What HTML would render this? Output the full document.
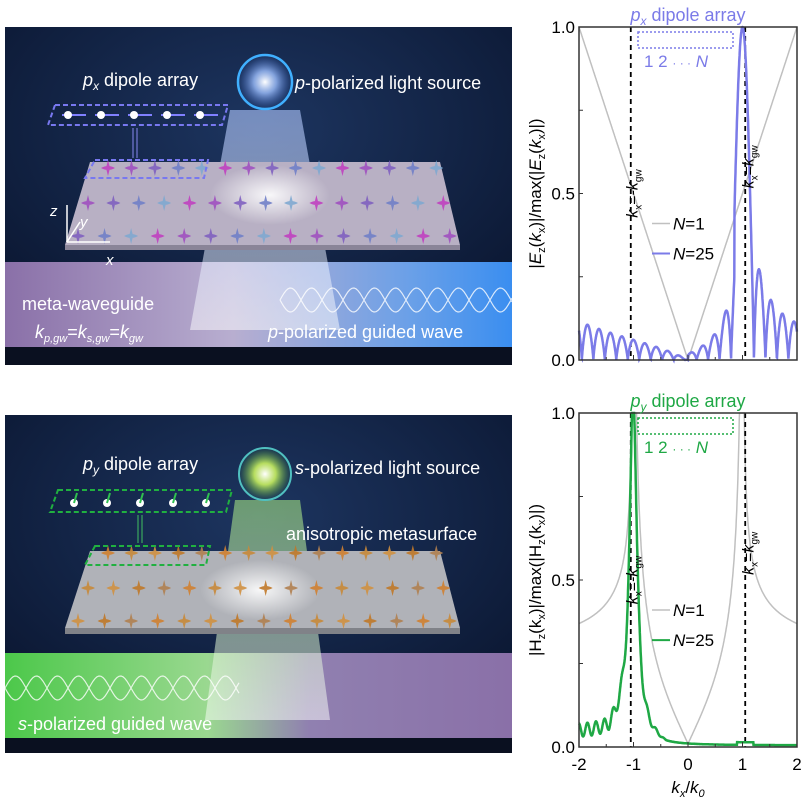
<!DOCTYPE html>
<html><head><meta charset="utf-8"><style>
html,body{margin:0;padding:0;background:#fff;}
svg{display:block;font-family:"Liberation Sans",sans-serif;}
</style></head><body>
<svg id="s" width="807" height="799" viewBox="0 0 807 799" xmlns="http://www.w3.org/2000/svg">
<defs>
<radialGradient id="bg" cx="0.5" cy="0.3" r="0.8"><stop offset="0" stop-color="#1d3560"/><stop offset="1" stop-color="#08122a"/></radialGradient>
<linearGradient id="wgp" x1="0" x2="1"><stop offset="0" stop-color="#8a70a8"/><stop offset="0.45" stop-color="#b8aed0"/><stop offset="0.8" stop-color="#6aa0e8"/><stop offset="1" stop-color="#3a8ef0"/></linearGradient>
<linearGradient id="wgs" x1="0" x2="1"><stop offset="0" stop-color="#4cc84a"/><stop offset="0.4" stop-color="#9ad890"/><stop offset="0.6" stop-color="#9080b0"/><stop offset="1" stop-color="#8a70a8"/></linearGradient>
<radialGradient id="glowB"><stop offset="0" stop-color="#fff"/><stop offset="0.4" stop-color="#9ec0ff" stop-opacity="0.8"/><stop offset="1" stop-color="#3a6ad0" stop-opacity="0"/></radialGradient>
<radialGradient id="glowG"><stop offset="0" stop-color="#fff"/><stop offset="0.4" stop-color="#c8f060" stop-opacity="0.9"/><stop offset="1" stop-color="#40a040" stop-opacity="0"/></radialGradient>
<linearGradient id="beamB" x1="0" y1="0" x2="0" y2="1"><stop offset="0" stop-color="#b0c8ff" stop-opacity="0.6"/><stop offset="1" stop-color="#fff" stop-opacity="0.5"/></linearGradient>
<linearGradient id="beamG" x1="0" y1="0" x2="0" y2="1"><stop offset="0" stop-color="#a0e080" stop-opacity="0.6"/><stop offset="1" stop-color="#fff" stop-opacity="0.5"/></linearGradient>
<radialGradient id="spot"><stop offset="0" stop-color="#fff" stop-opacity="0.9"/><stop offset="1" stop-color="#fff" stop-opacity="0"/></radialGradient>
</defs>

<rect x="5" y="27" width="507" height="338" fill="url(#bg)"/>
<rect x="5" y="262" width="507" height="85" fill="url(#wgp)"/>
<rect x="5" y="347" width="507" height="18" fill="#0a1020"/>
<polygon points="230,110 300,110 340,330 190,330" fill="url(#beamB)"/>
<polygon points="90,162 440,162 460,245 65,245" fill="#b8b0c4"/>
<polygon points="65,245 460,245 460,250 65,250" fill="#8a8498"/>
<ellipse cx="270" cy="195" rx="60" ry="30" fill="url(#spot)"/>
<g id="dt1"></g>
<circle cx="265" cy="82" r="28" fill="url(#glowB)"/>
<circle cx="265" cy="82" r="27" fill="none" stroke="#40b0ff" stroke-width="2.5"/>
<polygon points="55,105 228,105 222,125 48,125" fill="none" stroke="#7878f0" stroke-width="2" stroke-dasharray="5,3"/>
<polygon points="95,160 208,160 204,178 85,178" fill="none" stroke="#7878f0" stroke-width="2" stroke-dasharray="5,3"/>
<line x1="133" y1="128" x2="133" y2="158" stroke="#8888f0" stroke-width="1"/><line x1="137" y1="128" x2="137" y2="158" stroke="#8888f0" stroke-width="1"/>
<g id="arrB"></g>
<path id="wv1" fill="none" stroke="#fff" stroke-width="1.2" opacity="0.8"/>
<g stroke="#fff" stroke-width="1.5" fill="#fff"><line x1="67" y1="242" x2="67" y2="205"/><line x1="67" y1="242" x2="110" y2="242"/><line x1="67" y1="242" x2="80" y2="222"/></g>
<g fill="#fff" font-size="18">
<text x="83" y="86"><tspan font-style="italic">p</tspan><tspan font-size="12" dy="4" font-style="italic">x</tspan><tspan dy="-4"> dipole array</tspan></text>
<text x="295" y="89"><tspan font-style="italic">p</tspan>-polarized light source</text>
<text x="22" y="310">meta-waveguide</text>
<text x="35" y="338" font-style="italic">k<tspan font-size="11" dy="4">p,gw</tspan><tspan dy="-4" font-style="normal">=</tspan>k<tspan font-size="11" dy="4">s,gw</tspan><tspan dy="-4" font-style="normal">=</tspan>k<tspan font-size="11" dy="4">gw</tspan></text>
<text x="268" y="338"><tspan font-style="italic">p</tspan>-polarized guided wave</text>
<text x="50" y="216" font-style="italic" font-size="15">z</text>
<text x="80" y="227" font-style="italic" font-size="15">y</text>
<text x="106" y="265" font-style="italic" font-size="15">x</text>
</g>

<rect x="5" y="415" width="507" height="338" fill="url(#bg)"/>
<rect x="5" y="653" width="507" height="85" fill="url(#wgs)"/>
<rect x="5" y="738" width="507" height="15" fill="#0a1020"/>
<polygon points="235,500 300,500 330,720 205,720" fill="url(#beamG)"/>
<polygon points="90,551 440,551 460,628 65,628" fill="#b0b2b8"/>
<polygon points="65,628 460,628 460,634 65,634" fill="#808288"/>
<ellipse cx="260" cy="590" rx="60" ry="30" fill="url(#spot)"/>
<g id="dt2"></g>
<circle cx="265" cy="474" r="27" fill="url(#glowG)"/>
<circle cx="265" cy="474" r="26" fill="none" stroke="#50c0c0" stroke-width="2"/>
<polygon points="58,490 232,490 226,512 50,512" fill="none" stroke="#20b040" stroke-width="2" stroke-dasharray="5,3"/>
<polygon points="95,546 210,546 206,565 85,565" fill="none" stroke="#20b040" stroke-width="2" stroke-dasharray="5,3"/>
<line x1="138" y1="515" x2="138" y2="543" stroke="#40c060"/><line x1="142" y1="515" x2="142" y2="543" stroke="#40c060"/>
<g id="arrG"></g>
<path id="wv2" fill="none" stroke="#fff" stroke-width="1.2" opacity="0.8"/>
<g fill="#fff" font-size="18">
<text x="83" y="470"><tspan font-style="italic">p</tspan><tspan font-size="12" dy="4" font-style="italic">y</tspan><tspan dy="-4"> dipole array</tspan></text>
<text x="295" y="474"><tspan font-style="italic">s</tspan>-polarized light source</text>
<text x="286" y="540">anisotropic metasurface</text>
<text x="18" y="730"><tspan font-style="italic">s</tspan>-polarized guided wave</text>
</g>

<g id="charts"></g>
</svg>
<script>
const NS="http://www.w3.org/2000/svg";
function el(p,t,a,txt){const e=document.createElementNS(NS,t);for(const k in a)e.setAttribute(k,a[k]);if(txt!==undefined)e.textContent=txt;p.appendChild(e);return e;}
function dots(g,y0,colors){
 const rows=[[168,100,440],[203,80,448],[236,70,455]];
 rows.forEach((r,ri)=>{for(let i=0;i<15;i++){const x=r[1]+i*(r[2]-r[1])/14.5+8;const c=colors[(i+ri)%colors.length];
  el(g,'path',{d:`M${x-7},${r[0]+y0} Q${x},${r[0]+y0-4} ${x+7},${r[0]+y0} Q${x},${r[0]+y0+4} ${x-7},${r[0]+y0} M${x},${r[0]+y0-8} L${x+2},${r[0]+y0} L${x},${r[0]+y0+8} L${x-2},${r[0]+y0}Z`,fill:c,opacity:0.9});}});
}
dots(document.getElementById('dt1'),0,['#c040c0','#a050c0','#8060c0','#7080c8','#80a8d0']);
dots(document.getElementById('dt2'),385,['#d08030','#c88838','#d09040','#c07828','#b08050']);
const aB=document.getElementById('arrB'),aG=document.getElementById('arrG');
for(let i=0;i<5;i++){const x=68+i*33;el(aB,'line',{x1:x-6,y1:115,x2:x+18,y2:115,stroke:'#8080ff','stroke-width':2});el(aB,'circle',{cx:x,cy:115,r:4,fill:'#fff'});
 const x2=74+i*33;el(aG,'circle',{cx:x2,cy:503,r:4,fill:'#fff'});el(aG,'line',{x1:x2,y1:503,x2:x2+3,y2:493,stroke:'#30c050','stroke-width':2});}
function wave(id,x0,x1,y,a,per){let d='';for(let x=x0;x<=x1;x+=2){d+=(x==x0?'M':'L')+x+','+(y+a*Math.sin((x-x0)/per*2*Math.PI)).toFixed(1);}
 for(let x=x0;x<=x1;x+=2){d+=(x==x0?'M':'L')+x+','+(y-a*Math.sin((x-x0)/per*2*Math.PI)).toFixed(1);}document.getElementById(id).setAttribute('d',d);}
wave('wv1',280,512,300,12,42);wave('wv2',5,240,688,12,42);

const C=document.getElementById('charts');
function chart(y0,y1,n1,nN,col,title,ylab,showX){
 const X0=579,X1=797,sx=k=>X0+(k+2)/4*(X1-X0),sy=v=>y1-v*(y1-y0);
 const path=(f,step)=>{let d='';for(let k=-2;k<=2.0001;k+=step){let v=Math.min(1,f(k));d+=(d?'L':'M')+sx(k).toFixed(1)+','+sy(v).toFixed(1);}return d;};
 el(C,'path',{d:path(n1,0.005),fill:'none',stroke:'#c0c0c0','stroke-width':1.5});
 el(C,'line',{x1:sx(-1.05),y1:y0,x2:sx(-1.05),y2:y1,stroke:'#000','stroke-width':1.8,'stroke-dasharray':'5,4'});
 el(C,'line',{x1:sx(1.05),y1:y0,x2:sx(1.05),y2:y1,stroke:'#000','stroke-width':1.8,'stroke-dasharray':'5,4'});
 el(C,'path',{d:path(nN,0.003),fill:'none',stroke:col,'stroke-width':2.5});
 el(C,'rect',{x:X0,y:y0,width:X1-X0,height:y1-y0,fill:'none',stroke:'#333','stroke-width':1.5});
 for(let i=0;i<=4;i++){const v=i*0.25;el(C,'line',{x1:X0,y1:sy(v),x2:X0+4,y2:sy(v),stroke:'#333'});}
 for(let k=-2;k<=2;k+=0.5){el(C,'line',{x1:sx(k),y1:y1,x2:sx(k),y2:y1-(k%1==0?5:3),stroke:'#333'});}
 [['1.0',1],['0.5',0.5],['0.0',0]].forEach(([t,v])=>el(C,'text',{x:X0-4,y:sy(v)+6,'text-anchor':'end','font-size':17},t));
 if(showX){[-2,-1,0,1,2].forEach(k=>el(C,'text',{x:sx(k),y:y1+23,'text-anchor':'middle','font-size':17},String(k)));
  const t=el(C,'text',{x:688,y:y1+46,'text-anchor':'middle','font-size':17,'font-style':'italic'});t.innerHTML='k<tspan font-size="11" dy="4">x</tspan><tspan dy="-4" font-style="normal">/</tspan>k<tspan font-size="11" dy="4">0</tspan>';}
 const tt=el(C,'text',{x:688,y:y0-6,'text-anchor':'middle','font-size':18,fill:col});tt.innerHTML=title;
 const yl=el(C,'text',{transform:`translate(${X0-38},${(y0+y1)/2}) rotate(-90)`,'text-anchor':'middle','font-size':17});yl.innerHTML=ylab;
 const l1=el(C,'text',{transform:`translate(${sx(-0.93)},${sy(0.5)}) rotate(-90)`,'font-size':16,'font-style':'italic','text-anchor':'middle'});l1.innerHTML='k<tspan font-size="10" dy="4" font-style="normal">x</tspan><tspan dy="-4" font-style="normal">=-</tspan>k<tspan font-size="10" dy="4" font-style="normal">gw</tspan>';
 const l2=el(C,'text',{transform:`translate(${sx(1.2)},${sy(0.58)}) rotate(-90)`,'font-size':16,'font-style':'italic','text-anchor':'middle'});l2.innerHTML='k<tspan font-size="10" dy="4" font-style="normal">x</tspan><tspan dy="-4" font-style="normal">=</tspan>k<tspan font-size="10" dy="4" font-style="normal">gw</tspan>';
 const ly=sy(0.41);el(C,'line',{x1:652,y1:ly,x2:670,y2:ly,stroke:'#c0c0c0','stroke-width':1.5});
 el(C,'text',{x:673,y:ly+6,'font-size':17,'font-style':'italic'}).innerHTML='N<tspan font-style="normal">=1</tspan>';
 const ly2=sy(0.32);el(C,'line',{x1:652,y1:ly2,x2:670,y2:ly2,stroke:col,'stroke-width':2});
 el(C,'text',{x:673,y:ly2+6,'font-size':17,'font-style':'italic'}).innerHTML='N<tspan font-style="normal">=25</tspan>';
 el(C,'rect',{x:638,y:y0+5,width:95,height:16,fill:'none',stroke:col,'stroke-width':1.5,'stroke-dasharray':'2,2'});
 el(C,'text',{x:644,y:y0+40,'font-size':17,fill:col}).innerHTML='1 2 <tspan font-size="12">· · ·</tspan> <tspan font-style="italic">N</tspan>';
 return {sx,sy};
}
function af(k,k0){const d=0.19,N=25;const u=Math.PI*d*(k-k0)*2;const s=Math.sin(u/2);if(Math.abs(s)<1e-6)return 1;return Math.abs(Math.sin(N*u/2)/(N*s));}
chart(27,360,k=>Math.abs(k)/2,k=>{let a=Math.pow(af(k,1.0),0.8);let v;if(k>0.85)v=a*(Math.abs(k-1)<0.2?1:0.92);else if(k>0)v=a*(0.15+0.5*k);else v=a*0.75*Math.abs(k);return Math.min(1,v);},'#7b7be8','<tspan font-style="italic">p</tspan><tspan font-size="12" dy="4" font-style="italic">x</tspan><tspan dy="-4"> dipole array</tspan>','|<tspan font-style="italic">E</tspan><tspan font-size="11" dy="4">z</tspan><tspan dy="-4">(</tspan><tspan font-style="italic">k</tspan><tspan font-size="11" dy="4">x</tspan><tspan dy="-4">)|/max(|</tspan><tspan font-style="italic">E</tspan><tspan font-size="11" dy="4">z</tspan><tspan dy="-4">(</tspan><tspan font-style="italic">k</tspan><tspan font-size="11" dy="4">x</tspan><tspan dy="-4">)|)</tspan>',false);
chart(413,747,k=>{const a=Math.abs(k);if(a<1)return Math.min(1,0.35*a/Math.sqrt(1-a*a)+0.01);return 0.26+0.19/Math.sqrt(a*a-1);},k=>{const x=k+1;let v=1/(1+Math.pow(x/0.075,2));if(k<-1)v+=0.04+0.02*Math.sin(k*40)+0.08*Math.max(0,k+1.45)/0.45;else v+=0.04*Math.max(0,1-(k+1)/0.6)*(1+Math.sin(k*40)*0.5);if(k>0.9&&k<1.2)v+=0.008;return Math.min(1,v+0.005);},'#1fa845','<tspan font-style="italic">p</tspan><tspan font-size="12" dy="4" font-style="italic">y</tspan><tspan dy="-4"> dipole array</tspan>','|H<tspan font-size="11" dy="4">z</tspan><tspan dy="-4">(k</tspan><tspan font-size="11" dy="4">x</tspan><tspan dy="-4">)|/max(|H</tspan><tspan font-size="11" dy="4">z</tspan><tspan dy="-4">(k</tspan><tspan font-size="11" dy="4">x</tspan><tspan dy="-4">)|)</tspan>',true);
</script>
</body></html>
